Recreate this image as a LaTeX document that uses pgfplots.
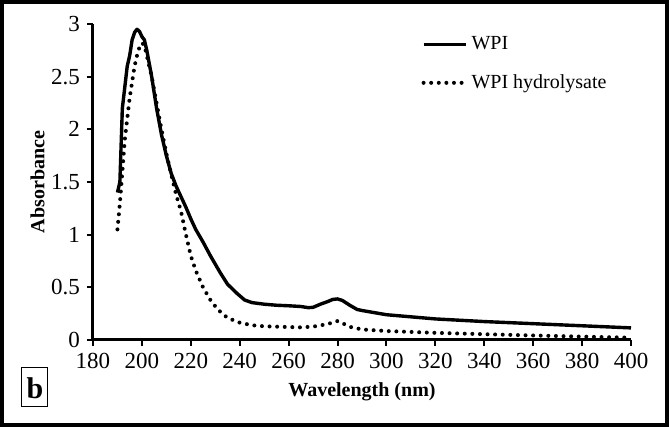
\documentclass[border=0pt]{standalone}
\usepackage{pgfplots}
\pgfplotsset{compat=1.18}
\usepackage{fontspec}
\setmainfont{Liberation Serif}
\begin{document}
\begin{tikzpicture}
\begin{axis}[
  scale only axis,
  width=269pt, height=158pt,
  xmin=180, xmax=400, ymin=0, ymax=3,
  xtick={180,200,...,400},
  ytick={0,0.5,1,1.5,2,2.5,3},
  axis lines*=left,
  axis line style={line width=1.5pt, black},
  tick style={line width=1pt, black},
  tick align=outside,
  major tick length=3pt,
  /pgf/number format/assume math mode=true,
  ticklabel style={font=\fontsize{11.5}{13}\selectfont},
  xlabel={\textbf{Wavelength (nm)}},
  ylabel={\textbf{Absorbance}},
  label style={font=\fontsize{10}{12}\selectfont},
  xlabel style={at={(axis description cs:0.5,-0.165)}, anchor=center},
  ylabel style={at={(axis description cs:-0.103,0.5)}, anchor=center},
  legend style={draw=none, fill=none, at={(rel axis cs:0.61,0.975)}, anchor=north west,
    font=\fontsize{10}{12}\selectfont, row sep=7pt, inner sep=0pt},
  legend cell align=left,
  legend image code/.code={\draw[#1] (0pt,0pt) -- (21pt,0pt);},
  clip=false,
]
\addplot[black, line width=1.7pt, line join=round] coordinates {
(190,1.40) (191,1.50) (192,2.20) (193,2.40) (194,2.60) (195,2.70) (196,2.85)
(197,2.92) (198,2.95) (199,2.93) (200,2.88) (201,2.85) (202,2.75) (204,2.50)
(206,2.20) (208,1.95) (210,1.75) (212,1.58) (214,1.46) (216,1.36) (218,1.26)
(220,1.15) (222,1.05) (225,0.93) (228,0.80) (232,0.64) (235,0.53) (239,0.44) (242,0.38)
(245,0.355) (250,0.34) (255,0.33) (260,0.325) (265,0.318) (268,0.307) (270,0.31)
(273,0.34) (276,0.365) (278,0.385) (280,0.39) (282,0.375) (285,0.33) (288,0.29)
(290,0.28) (295,0.26) (300,0.24) (310,0.22) (320,0.20) (340,0.175) (360,0.155)
(380,0.135) (400,0.115)
};
\addlegendentry{WPI}
\addplot[black, line width=2pt, line cap=round, dash pattern=on 0pt off 3.8pt] coordinates {
(190,1.05) (191,1.30) (192,1.60) (193,1.90) (194,2.10) (195,2.30) (196,2.45)
(197,2.60) (198,2.70) (199,2.78) (200,2.82) (201,2.80) (202,2.70) (204,2.50)
(206,2.25) (208,2.00) (210,1.77) (212,1.57) (214,1.38) (216,1.22) (218,1.00)
(220,0.80) (222,0.66) (225,0.50) (228,0.38) (231,0.29) (235,0.21) (240,0.165)
(245,0.14) (250,0.13) (260,0.123) (265,0.12) (270,0.127) (275,0.147) (278,0.165)
(280,0.18) (282,0.16) (285,0.125) (290,0.10) (300,0.085) (320,0.068) (340,0.055)
(360,0.043) (380,0.032) (400,0.022)
};
\addlegendentry{WPI hydrolysate}
\end{axis}
\draw[line width=2pt] (-45.5pt,-42.5pt) rectangle (287pt,169pt);
\draw[line width=0.5pt] (-35.5pt,-14pt) rectangle (-22.5pt,-33.5pt);
\node[font=\fontsize{15}{16}\selectfont\bfseries] at (-29pt,-24.2pt) {b};
\end{tikzpicture}
\end{document}
